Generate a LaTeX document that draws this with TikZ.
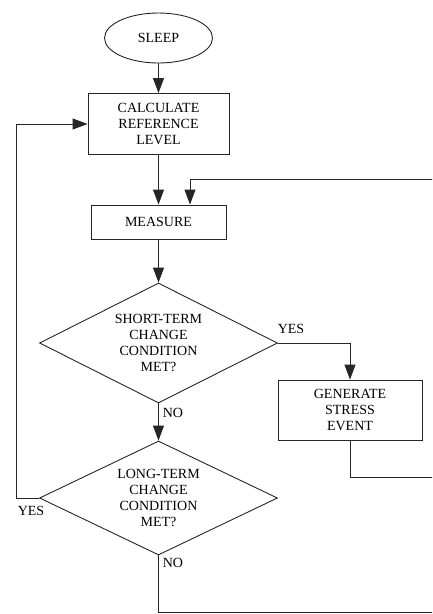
\documentclass[tikz,border=0pt]{standalone}
\usepackage{fontspec}
\setmainfont{Liberation Serif}
\usetikzlibrary{shapes.geometric,arrows.meta}

\begin{document}
\begin{tikzpicture}
[x=1pt,y=-1pt]
\tikzset{every node/.style={font=\fontsize{14}{15.7}\selectfont,align=center,inner sep=0}}
\tikzset{oval/.style={ellipse,draw,minimum width=108pt,minimum height=50pt}}
\tikzset{box/.style={draw,minimum width=141pt,minimum height=61pt}}
\tikzset{dec/.style={diamond,draw,shape aspect=2,minimum width=238pt,minimum height=120pt}}
\tikzset{arr/.style={-{Triangle[length=15pt,width=11pt]}}}
\tikzset{lbl/.style={}}
\useasboundingbox (0,0) rectangle (432,614);
\clip (0,0) rectangle (432,614);
\begin{scope}[draw=black!85,line width=0.9pt]
\node [oval] (sleep) at (158.5,38) {SLEEP};
\node [box] (calc) at (158.5,124) {CALCULATE\\REFERENCE\\LEVEL};
\node [box,minimum width=135pt,minimum height=34pt] (meas) at (158.5,222) {MEASURE};
\node [dec] (dec1) at (158.5,343) {SHORT-TERM\\CHANGE\\CONDITION\\MET?};
\node [box,minimum width=144pt,minimum height=60pt] (gen) at (350,410) {GENERATE\\STRESS\\EVENT};
\node [dec,minimum height=114pt] (dec2) at (158.5,498) {LONG-TERM\\CHANGE\\CONDITION\\MET?};

\node [lbl] (yes1) at (291,329) {YES};
\node [lbl] (no1) at (173,413) {NO};
\node [lbl] (yes2) at (31,511) {YES};
\node [lbl] (no2) at (173,563) {NO};

\coordinate (r1) at (436,477);
\coordinate (r2) at (436,612);
\coordinate (fb) at (190,179);

\foreach \from/\to in {sleep/calc,calc/meas,meas/dec1,dec1/dec2}
	\draw [arr] (\from.south) -- (\to.north);

\draw [arr] (dec1.east) -| (gen.north);
\draw [arr] (dec2.west) -- ++(-23,0) |- (calc.west);
\draw [arr] (gen.south) |- (r1) |- (fb) -- (fb |- meas.north);
\draw (dec2.south) |- (r2) -- (r1);
\end{scope}

\end{tikzpicture}
\end{document}
